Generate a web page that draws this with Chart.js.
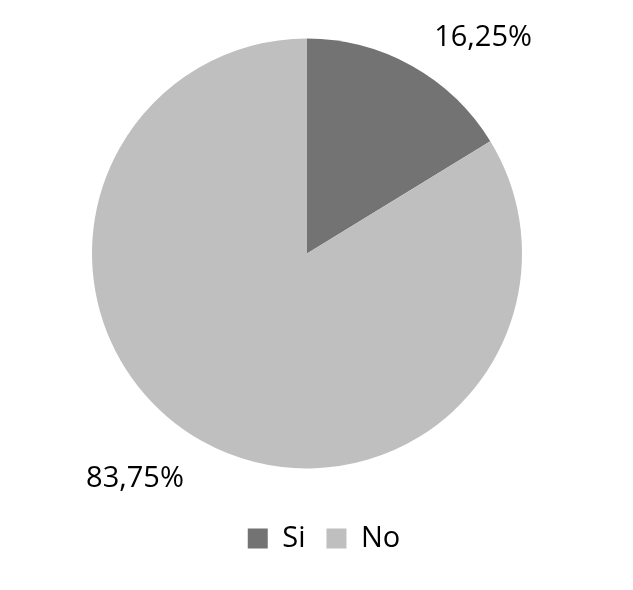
<!DOCTYPE html>
<html>
<head>
<meta charset="utf-8">
<script src="https://cdn.jsdelivr.net/npm/chart.js@4/dist/chart.umd.min.js"></script>
<style>
html,body{margin:0;padding:0;background:#fff;}
#wrap{width:633px;height:590px;position:relative;}
</style>
</head>
<body>
<div id="wrap"><canvas id="c" width="633" height="590"></canvas></div>
<script>
const categories = ["Si", "No"];
const values = [16.25, 83.75];
const valueLabels = ["16,25%", "83,75%"];
const colors = ["#737373", "#bfbfbf"];

const FONT = "'Open Sans', 'Liberation Sans', sans-serif";

const labelPlugin = {
  id: 'outerLabels',
  afterDatasetsDraw(chart) {
    const ctx = chart.ctx;
    const meta = chart.getDatasetMeta(0);
    ctx.save();
    ctx.font = "29px " + FONT;
    ctx.fillStyle = "#000";
    ctx.textAlign = "center";
    ctx.textBaseline = "middle";
    meta.data.forEach((arc, i) => {
      const mid = (arc.startAngle + arc.endAngle) / 2;
      const px = arc.x + Math.cos(mid) * arc.outerRadius;
      const py = arc.y + Math.sin(mid) * arc.outerRadius;
      const sx = Math.cos(mid) >= 0 ? 1 : -1;
      const sy = Math.sin(mid) >= 0 ? 1 : -1;
      const dy = sy > 0 ? 38 : 28;
      const dx = sx > 0 ? 71 : 67;
      ctx.fillText(valueLabels[i], px + sx * dx, py + sy * dy);
    });
    ctx.restore();
  }
};

const legendFitPlugin = {
  id: 'legendFit',
  beforeInit(chart) {
    const orig = chart.legend.fit;
    chart.legend.fit = function () {
      orig.call(this);
      this.height += 27;
    };
  },
  afterLayout(chart) {
    chart.legend.left += 17;
    chart.legend.right += 17;
  }
};

new Chart(document.getElementById('c'), {
  type: 'pie',
  data: {
    labels: categories,
    datasets: [{
      data: values,
      backgroundColor: colors,
      borderWidth: 0
    }]
  },
  options: {
    responsive: false,
    animation: false,
    layout: { padding: { top: 4, left: 92, right: 111, bottom: 0 } },
    plugins: {
      tooltip: { enabled: false },
      legend: {
        position: 'bottom',
        labels: {
          boxWidth: 20,
          boxHeight: 20,
          padding: 21,
          color: '#000',
          font: { family: FONT, size: 29 }
        }
      }
    }
  },
  plugins: [labelPlugin, legendFitPlugin]
});
</script>
</body>
</html>
